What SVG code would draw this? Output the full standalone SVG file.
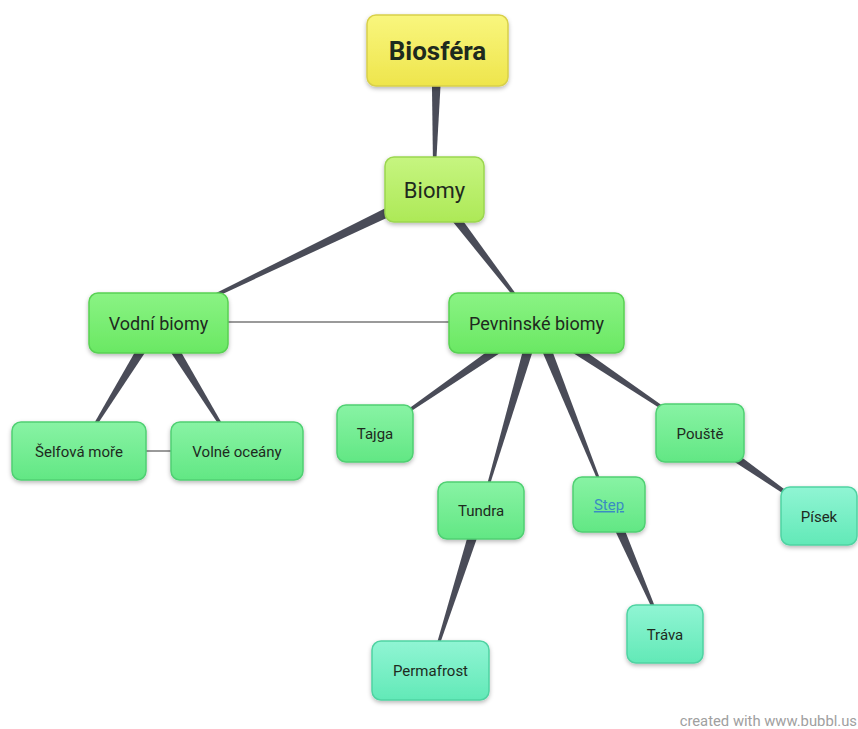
<svg xmlns="http://www.w3.org/2000/svg" width="858" height="729" viewBox="0 0 858 729">
<defs>
<linearGradient id="gY" x1="0" y1="0" x2="0" y2="1"><stop offset="0" stop-color="#f9f67e"/><stop offset="1" stop-color="#eee54c"/></linearGradient>
<linearGradient id="gL" x1="0" y1="0" x2="0" y2="1"><stop offset="0" stop-color="#c6f580"/><stop offset="1" stop-color="#ade957"/></linearGradient>
<linearGradient id="gG" x1="0" y1="0" x2="0" y2="1"><stop offset="0" stop-color="#8af384"/><stop offset="1" stop-color="#6ae863"/></linearGradient>
<linearGradient id="gS" x1="0" y1="0" x2="0" y2="1"><stop offset="0" stop-color="#88f3a4"/><stop offset="1" stop-color="#62e784"/></linearGradient>
<linearGradient id="gA" x1="0" y1="0" x2="0" y2="1"><stop offset="0" stop-color="#90f5d4"/><stop offset="1" stop-color="#62e9b7"/></linearGradient>
<filter id="sh" x="-20%" y="-20%" width="140%" height="150%"><feDropShadow dx="0" dy="2" stdDeviation="2" flood-color="#000" flood-opacity="0.28"/></filter>
</defs>
<style>
.n{filter:url(#sh);stroke-width:1.5}
.y{fill:url(#gY);stroke:#d8d04a}
.l{fill:url(#gL);stroke:#9bd64f}
.g{fill:url(#gG);stroke:#58d153}
.s{fill:url(#gS);stroke:#50d073}
.a{fill:url(#gA);stroke:#4fd3a2}
text{font-family:Roboto,"Liberation Sans",sans-serif;fill:#1e2a1e;text-anchor:middle}
.t15{font-size:15px}
.t18{font-size:18px}
.w{fill:#4a4c58}
.thin{stroke:#9a9a9a;stroke-width:2;fill:none}
</style>
<rect width="858" height="729" fill="#ffffff"/>
<g id="connectors">
<line class="thin" x1="228" y1="322" x2="449" y2="322"/>
<line class="thin" x1="146" y1="451" x2="171" y2="451"/>
<polygon class="w" points="431.5,49.88 433.3,189.99 434.7,190.01 442.5,50.12"/>
<polygon class="w" points="431.61,185.05 157.70,322.37 158.30,323.63 436.39,194.95"/>
<polygon class="w" points="429.64,193.35 535.44,323.43 536.56,322.57 438.36,186.65"/>
<polygon class="w" points="153.32,320.11 78.40,450.63 79.60,451.37 162.68,325.89"/>
<polygon class="w" points="153.32,325.89 236.40,451.37 237.60,450.63 162.68,320.11"/>
<polygon class="w" points="532.88,318.47 374.60,433.42 375.40,434.58 539.12,327.53"/>
<polygon class="w" points="530.72,321.45 480.33,509.80 481.67,510.20 541.28,324.55"/>
<polygon class="w" points="530.90,325.05 608.35,505.26 609.65,504.74 541.10,320.95"/>
<polygon class="w" points="532.94,327.57 699.61,433.58 700.39,432.42 539.06,318.43"/>
<polygon class="w" points="696.85,437.51 818.60,516.57 819.40,515.43 703.15,428.49"/>
<polygon class="w" points="475.76,508.33 429.33,669.79 430.67,670.21 486.24,511.67"/>
<polygon class="w" points="603.95,507.19 664.36,634.28 665.64,633.72 614.05,502.81"/>
</g>
<g id="biosfera"><rect class="n y" x="367" y="15" width="141" height="71" rx="9"/><text x="437.5" y="59.5" style="font-size:26px;font-weight:bold">Biosféra</text></g>
<g id="biomy"><rect class="n l" x="385" y="157" width="99" height="65" rx="9"/><text x="434.5" y="197.5" style="font-size:22px">Biomy</text></g>
<g id="vodni"><rect class="n g" x="89" y="293" width="139" height="60" rx="9"/><text class="t18" x="158.5" y="329.5">Vodní biomy</text></g>
<g id="pevninske"><rect class="n g" x="449" y="293" width="175" height="60" rx="9"/><text class="t18" x="536.5" y="329.5">Pevninské biomy</text></g>
<g id="selfova"><rect class="n s" x="12" y="422" width="134" height="58" rx="9"/><text class="t15" x="79" y="456.5">Šelfová moře</text></g>
<g id="volne"><rect class="n s" x="171" y="422" width="132" height="58" rx="9"/><text class="t15" x="237" y="456.5">Volné oceány</text></g>
<g id="tajga"><rect class="n s" x="337" y="405" width="76" height="57" rx="9"/><text class="t15" x="375" y="439">Tajga</text></g>
<g id="tundra"><rect class="n s" x="438" y="482" width="86" height="57" rx="9"/><text class="t15" x="481" y="516">Tundra</text></g>
<g id="step"><rect class="n s" x="573" y="477" width="72" height="55" rx="9"/><text class="t15" x="609" y="510" style="fill:#3a8cc2;text-decoration:underline">Step</text></g>
<g id="pouste"><rect class="n s" x="656" y="404" width="88" height="58" rx="9"/><text class="t15" x="700" y="438.5">Pouště</text></g>
<g id="pisek"><rect class="n a" x="781" y="487" width="76" height="58" rx="9"/><text class="t15" x="819" y="521.5">Písek</text></g>
<g id="permafrost"><rect class="n a" x="372" y="641" width="117" height="59" rx="9"/><text class="t15" x="430.5" y="675.5">Permafrost</text></g>
<g id="trava"><rect class="n a" x="627" y="605" width="76" height="58" rx="9"/><text class="t15" x="665" y="639.5">Tráva</text></g>
<text x="857" y="726" style="font-size:14.8px;fill:#a0a0a0;text-anchor:end">created with www.bubbl.us</text>
</svg>
